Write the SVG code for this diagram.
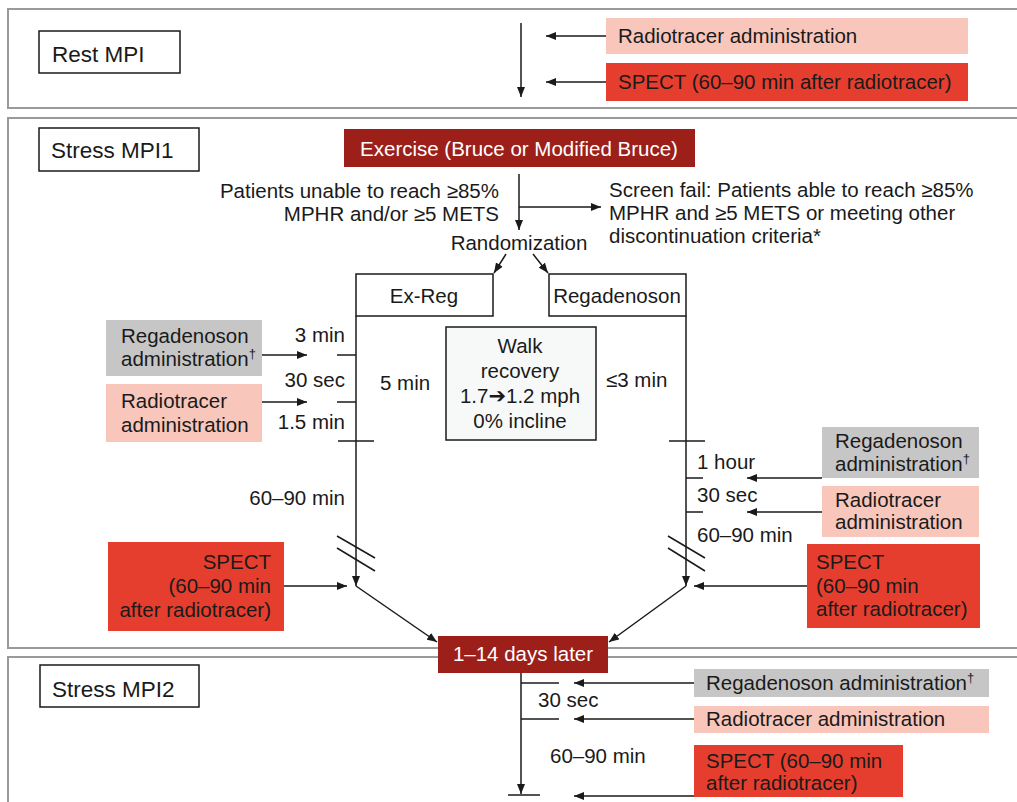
<svg xmlns="http://www.w3.org/2000/svg" width="1017" height="802" viewBox="0 0 1017 802">
<defs>
<marker id="ah" markerUnits="userSpaceOnUse" markerWidth="10" markerHeight="8" refX="10" refY="4" orient="auto">
<path d="M0,0 L10,4 L0,8 z" fill="#1a1a1a"/>
</marker>
<style>
.panel{fill:#fff;stroke:#9a9a9a;stroke-width:2}
.hdr{fill:#fff;stroke:#1a1a1a;stroke-width:1.5}
.ht{font-family:"Liberation Sans",Arial,sans-serif;font-size:22.5px;fill:#1a1a1a}
.t{font-family:"Liberation Sans",Arial,sans-serif;font-size:20.5px;fill:#1a1a1a}
.w{fill:#fff}
.gray{fill:#c6c6c6}
.pink{fill:#f8c6bb}
.red{fill:#e63e2e}
.dark{fill:#9c1f1a}
.ln{stroke:#1a1a1a;stroke-width:1.5;fill:none}
.ar{stroke:#1a1a1a;stroke-width:1.5;fill:none;marker-end:url(#ah)}
.end{text-anchor:end}
.mid{text-anchor:middle}
.sup{font-size:13px}
</style>
</defs>
<rect width="1017" height="802" fill="#fff"/>

<g id="panel-rest"><rect class="panel" x="8" y="9" width="1030" height="99"/></g>
<g id="panel-stress1"><rect class="panel" x="8" y="118" width="1030" height="530"/></g>
<g id="panel-stress2"><rect class="panel" x="8" y="657" width="1030" height="160"/></g>

<g id="rest-mpi"><rect class="hdr" x="39" y="31" width="141" height="42"/><text class="ht" x="52" y="62">Rest MPI</text></g>
<g id="rest-radio"><rect class="pink" x="606" y="18" width="362" height="36"/><text class="t" x="618" y="43">Radiotracer administration</text></g>
<g id="rest-spect"><rect class="red" x="606" y="63" width="362" height="38"/><text class="t" x="618" y="89">SPECT (60–90 min after radiotracer)</text></g>

<g id="stress1-mpi"><rect class="hdr" x="39" y="128" width="160" height="43"/><text class="ht" x="51" y="158">Stress MPI1</text></g>
<g id="exercise"><rect class="dark" x="344" y="129" width="351" height="38"/><text class="t w mid" x="519" y="156">Exercise (Bruce or Modified Bruce)</text></g>
<g id="unable-label"><text class="t end" x="499" y="198">Patients unable to reach ≥85%</text><text class="t end" x="499" y="221">MPHR and/or ≥5 METS</text></g>
<g id="screen-fail"><text class="t" x="609" y="197">Screen fail: Patients able to reach ≥85%</text><text class="t" x="609" y="220">MPHR and ≥5 METS or meeting other</text><text class="t" x="609" y="243">discontinuation criteria*</text></g>
<g id="randomization"><text class="t mid" x="519" y="250">Randomization</text></g>
<g id="exreg"><rect class="hdr" x="356" y="274" width="137" height="42"/><text class="t mid" x="424" y="303">Ex-Reg</text></g>
<g id="regadenoson"><rect class="hdr" x="549" y="274" width="137" height="42"/><text class="t mid" x="617" y="303">Regadenoson</text></g>
<g id="walk"><rect x="446" y="327" width="150" height="113" fill="#f7f9f9" stroke="#1a1a1a" stroke-width="1.5"/>
<text class="t mid" x="520" y="353">Walk</text><text class="t mid" x="520" y="378">recovery</text><text class="t mid" x="520" y="403">1.7<tspan font-family="DejaVu Sans" font-size="21px">➔</tspan>1.2 mph</text><text class="t mid" x="520" y="428">0% incline</text></g>

<g id="l-rega"><rect class="gray" x="106" y="320" width="156" height="56"/><text class="t" x="121" y="343">Regadenoson</text><text class="t" x="121" y="366">administration<tspan class="sup" dy="-8">†</tspan></text></g>
<g id="l-radio"><rect class="pink" x="106" y="384" width="156" height="58"/><text class="t" x="121" y="408">Radiotracer</text><text class="t" x="121" y="432">administration</text></g>
<g id="l-spect"><rect class="red" x="108" y="542" width="176" height="89"/><text class="t end" x="271" y="569">SPECT</text><text class="t end" x="271" y="593">(60–90 min</text><text class="t end" x="271" y="617">after radiotracer)</text></g>
<g id="l-labels"><text class="t end" x="345" y="342">3 min</text><text class="t end" x="345" y="387">30 sec</text><text class="t end" x="345" y="429">1.5 min</text><text class="t end" x="345" y="505">60–90 min</text><text class="t" x="380" y="390">5 min</text><text class="t" x="606" y="387">≤3 min</text></g>

<g id="r-rega"><rect class="gray" x="822" y="427" width="157" height="51"/><text class="t" x="835" y="448">Regadenoson</text><text class="t" x="835" y="471">administration<tspan class="sup" dy="-8">†</tspan></text></g>
<g id="r-radio"><rect class="pink" x="822" y="486" width="157" height="51"/><text class="t" x="835" y="507">Radiotracer</text><text class="t" x="835" y="529">administration</text></g>
<g id="r-spect"><rect class="red" x="807" y="544" width="173" height="84"/><text class="t" x="816" y="569">SPECT</text><text class="t" x="816" y="593">(60–90 min</text><text class="t" x="816" y="616">after radiotracer)</text></g>
<g id="r-labels"><text class="t" x="697" y="469">1 hour</text><text class="t" x="697" y="502">30 sec</text><text class="t" x="697" y="542">60–90 min</text></g>

<g id="stress2-mpi"><rect class="hdr" x="40" y="665" width="159" height="42"/><text class="ht" x="52" y="697">Stress MPI2</text></g>
<g id="s2-rega"><rect class="gray" x="694" y="669" width="295" height="28"/><text class="t" x="706" y="690">Regadenoson administration<tspan class="sup" dy="-8">†</tspan></text></g>
<g id="s2-radio"><rect class="pink" x="694" y="706" width="295" height="27"/><text class="t" x="706" y="726">Radiotracer administration</text></g>
<g id="s2-spect"><rect class="red" x="694" y="745" width="209" height="52"/><text class="t" x="706" y="768">SPECT (60–90 min</text><text class="t" x="706" y="790">after radiotracer)</text></g>
<g id="s2-labels"><text class="t" x="538" y="707">30 sec</text><text class="t" x="550" y="763">60–90 min</text></g>

<g id="connectors">
<line class="ar" x1="521" y1="23" x2="521" y2="97"/>
<line class="ar" x1="606" y1="36" x2="546" y2="36"/>
<line class="ar" x1="606" y1="82" x2="546" y2="82"/>

<line class="ar" x1="519" y1="174" x2="519" y2="230"/>
<line class="ar" x1="519" y1="207" x2="601" y2="207"/>
<line class="ar" x1="506" y1="254" x2="494" y2="273"/>
<line class="ar" x1="533" y1="254" x2="548" y2="273"/>

<line class="ar" x1="356" y1="316" x2="356" y2="586"/>
<line class="ar" x1="262" y1="355" x2="307" y2="355"/>
<line class="ar" x1="262" y1="402" x2="307" y2="402"/>
<line class="ln" x1="337" y1="355" x2="356" y2="355"/>
<line class="ln" x1="337" y1="402" x2="356" y2="402"/>
<line class="ln" x1="338" y1="441" x2="374" y2="441"/>
<line class="ln" x1="337" y1="536" x2="375" y2="558"/>
<line class="ln" x1="337" y1="548" x2="375" y2="571"/>
<line class="ar" x1="284" y1="586" x2="347" y2="586"/>
<line class="ar" x1="356" y1="586" x2="437" y2="642"/>

<line class="ar" x1="686" y1="316" x2="686" y2="586"/>
<line class="ln" x1="669" y1="441" x2="705" y2="441"/>
<line class="ln" x1="686" y1="478" x2="703" y2="478"/>
<line class="ln" x1="686" y1="512" x2="703" y2="512"/>
<line class="ln" x1="668" y1="536" x2="705" y2="558"/>
<line class="ln" x1="668" y1="548" x2="705" y2="571"/>
<line class="ar" x1="822" y1="478" x2="747" y2="478"/>
<line class="ar" x1="822" y1="512" x2="747" y2="512"/>
<line class="ar" x1="807" y1="586" x2="694" y2="586"/>
<line class="ar" x1="686" y1="586" x2="609" y2="642"/>

<line class="ar" x1="521" y1="673" x2="521" y2="794"/>
<line class="ln" x1="508" y1="795" x2="540" y2="795"/>
<line class="ln" x1="521" y1="683" x2="559" y2="683"/>
<line class="ln" x1="521" y1="719" x2="559" y2="719"/>
<line class="ar" x1="694" y1="683" x2="574" y2="683"/>
<line class="ar" x1="694" y1="719" x2="574" y2="719"/>
<line class="ar" x1="694" y1="796" x2="574" y2="796"/>
</g>
<g id="days"><rect class="dark" x="438" y="636" width="170" height="37"/><text class="t w mid" x="523" y="661">1–14 days later</text></g>
</svg>
